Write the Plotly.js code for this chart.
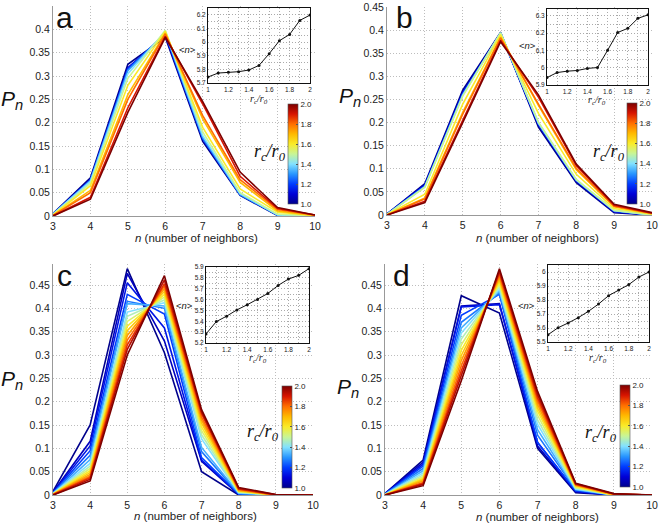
<!DOCTYPE html>
<html><head><meta charset="utf-8">
<script src="https://cdn.plot.ly/plotly-3.0.1.min.js"></script>
<style>html,body{margin:0;padding:0;background:#fff}#chart{width:661px;height:524px}</style>
</head><body><div id="chart"></div>
<script>
// ---------- data ----------
const nVals = [3,4,5,6,7,8,9,10];
const rcAB = [1.0,1.1,1.2,1.3,1.4,1.5,1.6,1.7,1.8,1.9,2.0];
const rcCD = [1.0,1.067,1.133,1.2,1.267,1.333,1.4,1.467,1.533,1.6,1.667,1.733,1.8,1.867,1.933,2.0];
const rcInset = [1.0,1.1,1.2,1.3,1.4,1.5,1.6,1.7,1.8,1.9,2.0];

const pnA = [
  [0.005,0.082,0.325,0.383,0.160,0.044,0.001,0],
  [0.004,0.078,0.318,0.387,0.165,0.046,0.002,0],
  [0.004,0.077,0.315,0.390,0.166,0.046,0.002,0],
  [0.004,0.076,0.312,0.392,0.168,0.046,0.002,0],
  [0.004,0.074,0.305,0.395,0.172,0.048,0.002,0],
  [0.003,0.070,0.295,0.398,0.180,0.050,0.004,0],
  [0.002,0.065,0.280,0.396,0.190,0.058,0.008,0.001],
  [0.001,0.055,0.260,0.392,0.208,0.072,0.011,0.001],
  [0.001,0.050,0.250,0.390,0.215,0.078,0.014,0.002],
  [0.000,0.040,0.232,0.385,0.240,0.085,0.016,0.002],
  [0.000,0.036,0.222,0.383,0.245,0.094,0.018,0.002]
];
const pnB = [
  [0.002,0.068,0.270,0.395,0.190,0.070,0.005,0],
  [0.002,0.065,0.265,0.393,0.195,0.073,0.007,0],
  [0.002,0.063,0.262,0.393,0.197,0.075,0.008,0],
  [0.001,0.062,0.260,0.394,0.199,0.075,0.009,0],
  [0.001,0.061,0.259,0.394,0.199,0.076,0.010,0],
  [0.001,0.060,0.257,0.394,0.201,0.077,0.010,0],
  [0.001,0.045,0.240,0.390,0.220,0.088,0.014,0.002],
  [0.000,0.037,0.222,0.385,0.237,0.098,0.018,0.003],
  [0.000,0.035,0.218,0.383,0.240,0.101,0.019,0.004],
  [0.000,0.030,0.205,0.378,0.255,0.107,0.021,0.004],
  [0.000,0.027,0.200,0.375,0.260,0.110,0.023,0.005]
];
const pnC = [
  [0.008,0.150,0.485,0.305,0.050,0.000,0,0],
  [0.006,0.115,0.475,0.330,0.072,0.001,0,0],
  [0.005,0.105,0.455,0.358,0.075,0.002,0,0],
  [0.004,0.095,0.430,0.388,0.080,0.002,0,0],
  [0.004,0.085,0.415,0.400,0.093,0.003,0,0],
  [0.003,0.076,0.410,0.405,0.102,0.004,0,0],
  [0.003,0.068,0.392,0.412,0.120,0.005,0,0],
  [0.002,0.062,0.383,0.418,0.129,0.006,0,0],
  [0.002,0.057,0.372,0.424,0.138,0.007,0,0],
  [0.002,0.052,0.362,0.430,0.146,0.008,0,0],
  [0.001,0.048,0.352,0.436,0.154,0.009,0,0],
  [0.001,0.044,0.342,0.442,0.161,0.010,0,0],
  [0.001,0.040,0.332,0.448,0.167,0.012,0,0],
  [0.001,0.037,0.322,0.453,0.174,0.013,0,0],
  [0.000,0.034,0.312,0.461,0.178,0.014,0.001,0],
  [0.000,0.030,0.300,0.470,0.183,0.016,0.001,0]
];
const pnD = [
  [0.003,0.075,0.427,0.390,0.100,0.005,0,0],
  [0.003,0.070,0.405,0.410,0.105,0.007,0,0],
  [0.002,0.066,0.403,0.408,0.113,0.008,0,0],
  [0.002,0.062,0.385,0.430,0.112,0.009,0,0],
  [0.002,0.057,0.370,0.432,0.128,0.011,0,0],
  [0.001,0.052,0.358,0.437,0.140,0.012,0,0],
  [0.001,0.047,0.347,0.441,0.151,0.013,0,0],
  [0.001,0.043,0.334,0.446,0.161,0.015,0,0],
  [0.001,0.039,0.322,0.451,0.171,0.016,0,0],
  [0.000,0.036,0.310,0.456,0.180,0.018,0,0],
  [0.000,0.033,0.299,0.461,0.187,0.020,0,0],
  [0.000,0.030,0.288,0.466,0.194,0.021,0.001,0],
  [0.000,0.027,0.277,0.471,0.201,0.022,0.002,0],
  [0.000,0.025,0.266,0.476,0.208,0.023,0.002,0],
  [0.000,0.023,0.256,0.480,0.215,0.024,0.002,0],
  [0.000,0.020,0.245,0.485,0.222,0.025,0.003,0]
];

const meanA = [5.744,5.773,5.778,5.783,5.795,5.829,5.915,6.010,6.056,6.159,6.198];
const meanB = [5.943,5.972,5.980,5.984,5.996,6.001,6.101,6.204,6.228,6.286,6.306];
const meanC = [5.283,5.397,5.447,5.505,5.552,5.601,5.656,5.730,5.789,5.823,5.885];
const meanD = [5.552,5.602,5.636,5.674,5.719,5.771,5.831,5.871,5.910,5.964,6.000];

const yTickVals = [0,0.05,0.1,0.15,0.2,0.25,0.3,0.35,0.4,0.45];
const yTickText = ["0","0.05","0.1","0.15","0.2","0.25","0.3","0.35","0.4","0.45"];
const cbTickVals = [1.0,1.2,1.4,1.6,1.8,2.0];
const cbTickText = ["1.0","1.2","1.4","1.6","1.8","2.0"];

// ---------- styling helpers ----------
const W = 661, H = 524;
const X = p => p / W, Y = p => 1 - p / H;
const stops = [
  [0.0,[0,0,140]],[0.1,[0,0,215]],[0.2,[0,60,255]],[0.3,[40,150,255]],
  [0.4,[130,225,255]],[0.5,[200,245,150]],[0.6,[250,235,40]],[0.7,[255,185,0]],
  [0.8,[255,110,0]],[0.9,[215,20,0]],[1.0,[125,0,0]]
];
function cmap(t){
  for(let i=0;i<stops.length-1;i++){
    const [a,ca]=stops[i],[b,cb]=stops[i+1];
    if(t<=b+1e-9){const f=(t-a)/(b-a);
      return 'rgb('+ca.map((c,j)=>Math.round(c+(cb[j]-c)*f)).join(',')+')';}
  }
  return 'rgb(125,0,0)';
}
const colorscale = stops.map(s=>[s[0],'rgb('+s[1].join(',')+')']);

const panels = [
  {pn:pnA, rc:rcAB, mean:meanA, ax:'',  inset:'5', dom:[53,315,6,216], yr:[0,0.45],
   ins:[208,310,8,83], iyr:[5.7,6.25], cb:[288,104,204]},
  {pn:pnB, rc:rcAB, mean:meanB, ax:'2', inset:'6', dom:[387,652,7,215], yr:[0,0.45],
   ins:[547,648,9,85], iyr:[5.9,6.34], cb:[627,103,204]},
  {pn:pnC, rc:rcCD, mean:meanC, ax:'3', inset:'7', dom:[53,313,264,495], yr:[0,0.495],
   ins:[206,309,267,343], iyr:[5.2,5.9], cb:[282,386,488]},
  {pn:pnD, rc:rcCD, mean:meanD, ax:'4', inset:'8', dom:[385,652,264,495], yr:[0,0.495],
   ins:[548,649,265,342], iyr:[5.5,6.05], cb:[620,385,487]}
];

const traces = [];
const layout = {
  width:W, height:H, margin:{l:0,r:0,t:0,b:0},
  paper_bgcolor:'#fff', plot_bgcolor:'#fff', showlegend:false,
  font:{family:'Liberation Sans, Arial, sans-serif', color:'#222'},
  annotations:[]
};

const insXVals=[], insXText=[];
for(let i=0;i<=10;i++){const v=+(1+i/10).toFixed(2); insXVals.push(v); insXText.push(i%2===0?(v===1?'1':v===2?'2':v.toFixed(1)):'');}

const GRIDDASH = '1px,2px';
panels.forEach((p,pi)=>{
  const xa='x'+p.ax, ya='y'+p.ax, xi='x'+p.inset, yi='y'+p.inset;
  p.pn.forEach((row,k)=>{
    const t=(p.rc[k]-1);
    traces.push({type:'scatter',mode:'lines',x:nVals,y:row,xaxis:xa,yaxis:ya,
      line:{color:cmap(t),width:1.6},hoverinfo:'skip'});
  });
  // colorbar carrier (invisible markers)
  traces.push({type:'scatter',mode:'markers',x:rcInset,y:p.mean,xaxis:xi,yaxis:yi,hoverinfo:'skip',
    marker:{size:1,opacity:0,color:rcInset,colorscale:colorscale,cmin:1,cmax:2,showscale:true,
      colorbar:{x:X(p.cb[0]),xanchor:'left',xref:'paper',y:Y(p.cb[2]),yanchor:'bottom',yref:'paper',
        len:(p.cb[2]-p.cb[1])/H,lenmode:'fraction',thickness:10,thicknessmode:'pixels',
        xpad:0,ypad:0,outlinewidth:0.6,outlinecolor:'#555',
        tickvals:cbTickVals,ticktext:cbTickText,ticks:'inside',ticklen:2,tickcolor:'#555',
        tickfont:{size:8,color:'#222'}}}});
  // inset line
  traces.push({type:'scatter',mode:'lines+markers',x:rcInset,y:p.mean,xaxis:xi,yaxis:yi,
    line:{color:'#111',width:1},marker:{color:'#111',size:3},hoverinfo:'skip'});

  const d=p.dom;
  layout['xaxis'+p.ax]={domain:[X(d[0]),X(d[1])],range:[3,10],anchor:ya,
    tickvals:nVals,ticktext:nVals.map(String),showgrid:true,griddash:GRIDDASH,gridcolor:'#bdbdbd',
    showline:true,linecolor:'#999',linewidth:1,zeroline:false,ticks:'',
    tickfont:{size:10.5,color:'#222'},fixedrange:true};
  layout['yaxis'+p.ax]={domain:[Y(d[3]),Y(d[2])],range:p.yr,anchor:xa,
    tickvals:yTickVals,ticktext:yTickText,showgrid:true,griddash:GRIDDASH,gridcolor:'#bdbdbd',
    showline:true,linecolor:'#999',linewidth:1,zeroline:false,ticks:'',
    tickfont:{size:10.5,color:'#222'},fixedrange:true};

  const s=p.ins;
  const yv=[], yt=[];
  const lo=Math.round(p.iyr[0]*20), hi=Math.floor(p.iyr[1]*20+1e-6);
  for(let j=lo;j<=hi;j++){const v=+(j/20).toFixed(2); yv.push(v);
    yt.push(j%2===0?(Math.abs(v-Math.round(v))<1e-9?String(Math.round(v)):v.toFixed(1)):'');}
  layout['xaxis'+p.inset]={domain:[X(s[0]),X(s[1])],range:[1,2],anchor:yi,
    tickvals:insXVals,ticktext:insXText,showgrid:true,griddash:GRIDDASH,gridcolor:'#aaa',
    showline:true,mirror:true,linecolor:'#111',linewidth:1,zeroline:false,ticks:'',
    tickfont:{size:6.5,color:'#222'},fixedrange:true};
  layout['yaxis'+p.inset]={domain:[Y(s[3]),Y(s[2])],range:p.iyr,anchor:xi,
    tickvals:yv,ticktext:yt,showgrid:true,griddash:GRIDDASH,gridcolor:'#aaa',
    showline:true,mirror:true,linecolor:'#111',linewidth:1,zeroline:false,ticks:'',
    tickfont:{size:6.5,color:'#222'},fixedrange:true};
});

// ---------- text annotations ----------
const A = (x,y,text,font,xa,ya)=>layout.annotations.push({xref:'paper',yref:'paper',x:X(x),y:Y(y),
  text:text,showarrow:false,font:font,xanchor:xa||'center',yanchor:ya||'middle'});
const xt='<i>n</i> (number of neighbors)';
const fT={size:11.5,family:'Liberation Sans, Arial, sans-serif',color:'#222'};
A(196,238,xt,fT); A(537,238,xt,fT); A(195,516,xt,fT); A(537,517,xt,fT);
const pn='<i>P</i><sub><i>n</i></sub>';
const fP={size:21,family:'Liberation Sans, Arial, sans-serif',color:'#111'};
A(12,100,pn,fP); A(350,97,pn,fP); A(12,380,pn,fP); A(348,388,pn,fP);
const fL={size:30,family:'Liberation Sans, Arial, sans-serif',color:'#111'};
A(64,17,'a',fL); A(404,17,'b',fL); A(64,275,'c',fL); A(402,275,'d',fL);
const rl='<i>r</i><sub><i>c</i></sub><i>/r</i><sub><i>0</i></sub>';
const fR={size:18,family:'Liberation Serif, Times New Roman, serif',color:'#111'};
A(270,152,rl,fR); A(609,152,rl,fR); A(263,432,rl,fR); A(601,433,rl,fR);
const fRi={size:10,family:'Liberation Serif, Times New Roman, serif',color:'#222'};
A(259,100,rl,fRi); A(597,101,rl,fRi); A(258,358,rl,fRi); A(598,358,rl,fRi);
const nl='&lt;<i>n</i>&gt;';
const fN={size:9.5,family:'Liberation Sans, Arial, sans-serif',color:'#222'};
A(187,49,nl,fN); A(527,45,nl,fN); A(184,305,nl,fN); A(526,305,nl,fN);

Plotly.newPlot('chart',traces,layout,{staticPlot:true,displayModeBar:false});
</script></body></html>
